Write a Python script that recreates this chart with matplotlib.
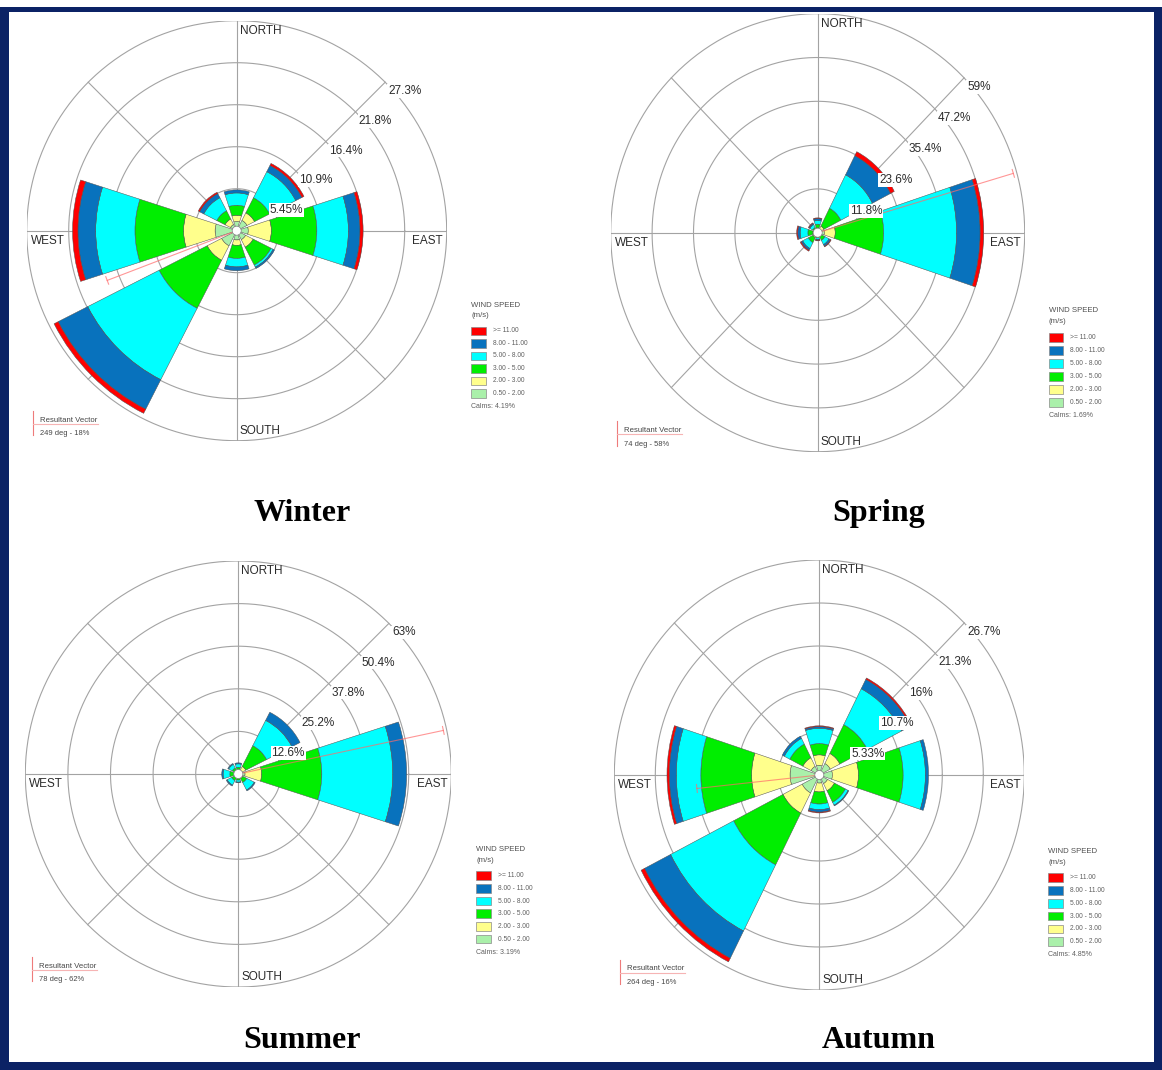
import matplotlib
matplotlib.use("Agg")
import matplotlib.pyplot as plt
from matplotlib.patches import Wedge, Rectangle, Ellipse
import numpy as np

plt.rcParams['font.family'] = ['Liberation Sans', 'DejaVu Sans']

W, H = 1162, 1070

# compass directions of the 8 sectors (deg clockwise from north)
directions = [0, 45, 90, 135, 180, 225, 270, 315]
speed_labels = ["0.50 - 2.00", "2.00 - 3.00", "3.00 - 5.00", "5.00 - 8.00", "8.00 - 11.00", ">= 11.00"]
speed_colors = ["#aaf0aa", "#ffff8c", "#00ee00", "#00ffff", "#0872bd", "#ff0000"]

# frequency (%) per sector N, NE, E, SE, S, SW, W, NW -- one row per speed class, slowest first
winter = [
    [1.2, 1.5, 1.5, 1.3, 1.2, 2.2, 2.8, 0.9],
    [0.8, 1.1, 3.0, 1.1, 0.7, 2.1, 4.1, 0.8],
    [1.3, 2.2, 5.9, 2.6, 1.7, 7.0, 6.3, 1.2],
    [1.6, 3.8, 4.1, 0.3, 1.1, 10.4, 5.1, 1.9],
    [0.4, 0.9, 1.5, 0.2, 0.5, 4.3, 2.3, 0.6],
    [0.0, 0.3, 0.4, 0.0, 0.0, 0.6, 0.7, 0.2],
]
spring = [
    [1.0, 1.0, 1.9, 0.8, 0.7, 1.0, 1.0, 0.8],
    [0.3, 1.0, 3.1, 0.4, 0.3, 0.5, 0.4, 0.2],
    [1.0, 5.4, 13.8, 1.1, 0.4, 1.5, 1.4, 0.6],
    [1.0, 10.1, 20.8, 1.3, 0.4, 1.8, 2.2, 0.9],
    [0.5, 5.8, 6.7, 0.5, 0.2, 0.5, 0.7, 0.3],
    [0.2, 1.2, 1.0, 0.2, 0.2, 0.3, 0.3, 0.2],
]
summer = [
    [0.6, 1.0, 2.0, 0.7, 0.6, 0.6, 0.7, 0.6],
    [0.4, 1.5, 4.9, 0.8, 0.4, 0.4, 0.5, 0.4],
    [1.0, 6.9, 17.8, 1.3, 0.8, 1.2, 1.3, 1.0],
    [1.0, 8.4, 21.0, 2.5, 0.6, 1.5, 2.0, 1.2],
    [0.3, 2.7, 4.1, 0.3, 0.2, 0.3, 0.4, 0.3],
    [0.0, 0.0, 0.0, 0.0, 0.0, 0.0, 0.0, 0.0],
]
autumn = [
    [1.2, 1.6, 1.7, 1.2, 1.0, 2.5, 3.8, 1.2],
    [1.3, 1.4, 3.4, 1.0, 1.1, 2.8, 5.0, 1.2],
    [1.4, 4.0, 5.8, 1.6, 1.5, 7.2, 6.6, 1.9],
    [1.9, 5.0, 2.9, 0.4, 0.7, 9.2, 3.2, 0.8],
    [0.2, 1.3, 0.4, 0.1, 0.3, 3.8, 0.9, 0.3],
    [0.1, 0.2, 0.0, 0.0, 0.1, 0.5, 0.3, 0.0],
]

seasons = ["Winter", "Spring", "Summer", "Autumn"]
season_data = [winter, spring, summer, autumn]
ring_steps = [5.45, 11.8, 12.6, 5.33]
ring_labels = [
    ["5.45%", "10.9%", "16.4%", "21.8%", "27.3%"],
    ["11.8%", "23.6%", "35.4%", "47.2%", "59%"],
    ["12.6%", "25.2%", "37.8%", "50.4%", "63%"],
    ["5.33%", "10.7%", "16%", "21.3%", "26.7%"],
]
calms = [4.19, 1.69, 3.19, 4.85]
resultant_dir = [249, 74, 78, 264]
resultant_pct = [18, 58, 62, 16]

# panel geometry in pixels: rose centre and horizontal / vertical radius
centers = [(236.7, 230.7), (817.7, 232.7), (238.3, 774.0), (819.3, 775.0)]
radii = [(210, 210), (207, 219), (213, 213), (205, 215)]
title_pos = [(302, 521), (879, 521), (302, 1048), (879, 1048)]

grid_c = "#a3a3a3"
text_c = "#2b2b2b"
navy = "#0b2265"
half_w = 18  # half angular width of a sector bar


def draw_rose(ax, data, step, rlabels, calm, rdir, rpct, rx, ry):
    rmax = step * 5
    sx = rmax / rx   # data units per pixel
    sy = rmax / ry
    ax.set_xlim(-rmax, rmax)
    ax.set_ylim(-rmax, rmax)
    ax.set_aspect('auto')
    ax.axis('off')

    # rings and spokes
    t = np.linspace(0, 2 * np.pi, 500)
    for k in range(1, 6):
        ax.plot(step * k * np.cos(t), step * k * np.sin(t), color=grid_c, lw=0.8, zorder=1)
    for d in directions:
        a = np.radians(90 - d)
        ax.plot([0, rmax * np.cos(a)], [0, rmax * np.sin(a)], color=grid_c, lw=0.8, zorder=1)

    # stacked sector bars
    base = np.zeros(len(directions))
    for vals, col in zip(data, speed_colors):
        for i, d in enumerate(directions):
            if vals[i] <= 0:
                continue
            ax.add_patch(Wedge((0, 0), base[i] + vals[i], 90 - d - half_w, 90 - d + half_w,
                               width=vals[i], facecolor=col, edgecolor="#505050",
                               linewidth=0.35, zorder=3))
        base += np.array(vals)

    # calm circle
    ax.add_patch(Ellipse((0, 0), 9 * sx, 9 * sy, facecolor="white", edgecolor="#808080",
                         linewidth=0.5, zorder=5))

    # resultant vector
    a = np.radians(90 - rdir)
    ex, ey = rpct * np.cos(a), rpct * np.sin(a)
    ax.plot([0, ex], [0, ey], color="#ff6a6a", lw=0.8, alpha=0.7, zorder=4)
    px, py = -np.sin(a), np.cos(a)
    ax.plot([ex - 4 * px * sx, ex + 4 * px * sx], [ey - 4 * py * sy, ey + 4 * py * sy],
            color="#ff6a6a", lw=0.8, alpha=0.7, zorder=4)

    # ring labels along the NE spoke
    for k, lab in enumerate(rlabels, start=1):
        r = step * k
        ax.annotate(lab, (r * np.sin(np.pi / 4), r * np.cos(np.pi / 4)), xytext=(3, -3),
                    textcoords='offset pixels', ha='left', va='top', fontsize=8.5,
                    color=text_c, zorder=6,
                    bbox=dict(facecolor='white', edgecolor='none', pad=0.6))

    # compass labels
    ax.annotate("NORTH", (0, rmax), xytext=(3, -4), textcoords='offset pixels',
                ha='left', va='top', fontsize=8.5, color=text_c)
    ax.annotate("SOUTH", (0, -rmax), xytext=(3, 4), textcoords='offset pixels',
                ha='left', va='bottom', fontsize=8.5, color=text_c)
    ax.annotate("WEST", (-rmax, 0), xytext=(4, -4), textcoords='offset pixels',
                ha='left', va='top', fontsize=8.5, color=text_c)
    ax.annotate("EAST", (rmax, 0), xytext=(-4, -4), textcoords='offset pixels',
                ha='right', va='top', fontsize=8.5, color=text_c)

    # wind speed legend
    lx, ly = 1.117 * rmax, -0.355 * rmax
    v = rmax / 210.0
    ax.text(lx, ly, "WIND SPEED", fontsize=5.6, color="#505050", va='center', ha='left')
    ax.text(lx, ly - 10.5 * v, "(m/s)", fontsize=5.6, color="#505050", va='center', ha='left')
    for j, (lab, col) in enumerate(zip(speed_labels[::-1], speed_colors[::-1])):
        yc = ly - (25.7 + 12.5 * j) * v
        ax.add_patch(Rectangle((lx, yc - 4.2 * v), 14.5 * sx, 8.4 * v, facecolor=col,
                               edgecolor="#8a8a8a", linewidth=0.5, clip_on=False))
        ax.text(lx + 21.5 * sx, yc, lab, fontsize=4.8, color="#606060", va='center', ha='left')
    ax.text(lx, ly - 101 * v, "Calms: %.2f%%" % calm, fontsize=5.0, color="#606060",
            va='center', ha='left')

    # resultant vector note
    qx, qy = -0.970 * rmax, -0.902 * rmax
    ax.plot([qx, qx], [qy + 9 * v, qy - 15 * v], color="#ee7b7b", lw=0.8, clip_on=False)
    ax.plot([qx, qx + 65 * sx], [qy - 4 * v, qy - 4 * v], color="#f6b4b4", lw=0.8, clip_on=False)
    ax.text(qx + 7 * sx, qy, "Resultant Vector", fontsize=5.6, color="#454545",
            va='center', ha='left')
    ax.text(qx + 7 * sx, qy - 13.5 * v, "%d deg - %d%%" % (rdir, rpct), fontsize=5.4,
            color="#454545", va='center', ha='left')


fig = plt.figure(figsize=(W / 100, H / 100), dpi=100)

for i in range(4):
    cx, cy = centers[i]
    rx, ry = radii[i]
    ax = fig.add_axes([(cx - rx) / W, 1 - (cy + ry) / H, 2 * rx / W, 2 * ry / H])
    draw_rose(ax, season_data[i], ring_steps[i], ring_labels[i], calms[i],
              resultant_dir[i], resultant_pct[i], rx, ry)
    tx, ty = title_pos[i]
    fig.text(tx / W, 1 - ty / H, seasons[i], ha='center', va='baseline', fontsize=23,
             fontweight='bold', family=['Liberation Serif', 'DejaVu Serif'])

# page frame
for (x0, y0, w, h) in [(0, 7, 9, 1063), (0, 7, W, 5), (1154, 7, 8, 1063), (0, 1062, W, 8)]:
    fig.add_artist(Rectangle((x0 / W, 1 - (y0 + h) / H), w / W, h / H, transform=fig.transFigure,
                             facecolor=navy, edgecolor='none'))

fig.savefig("out.png", dpi=100)
